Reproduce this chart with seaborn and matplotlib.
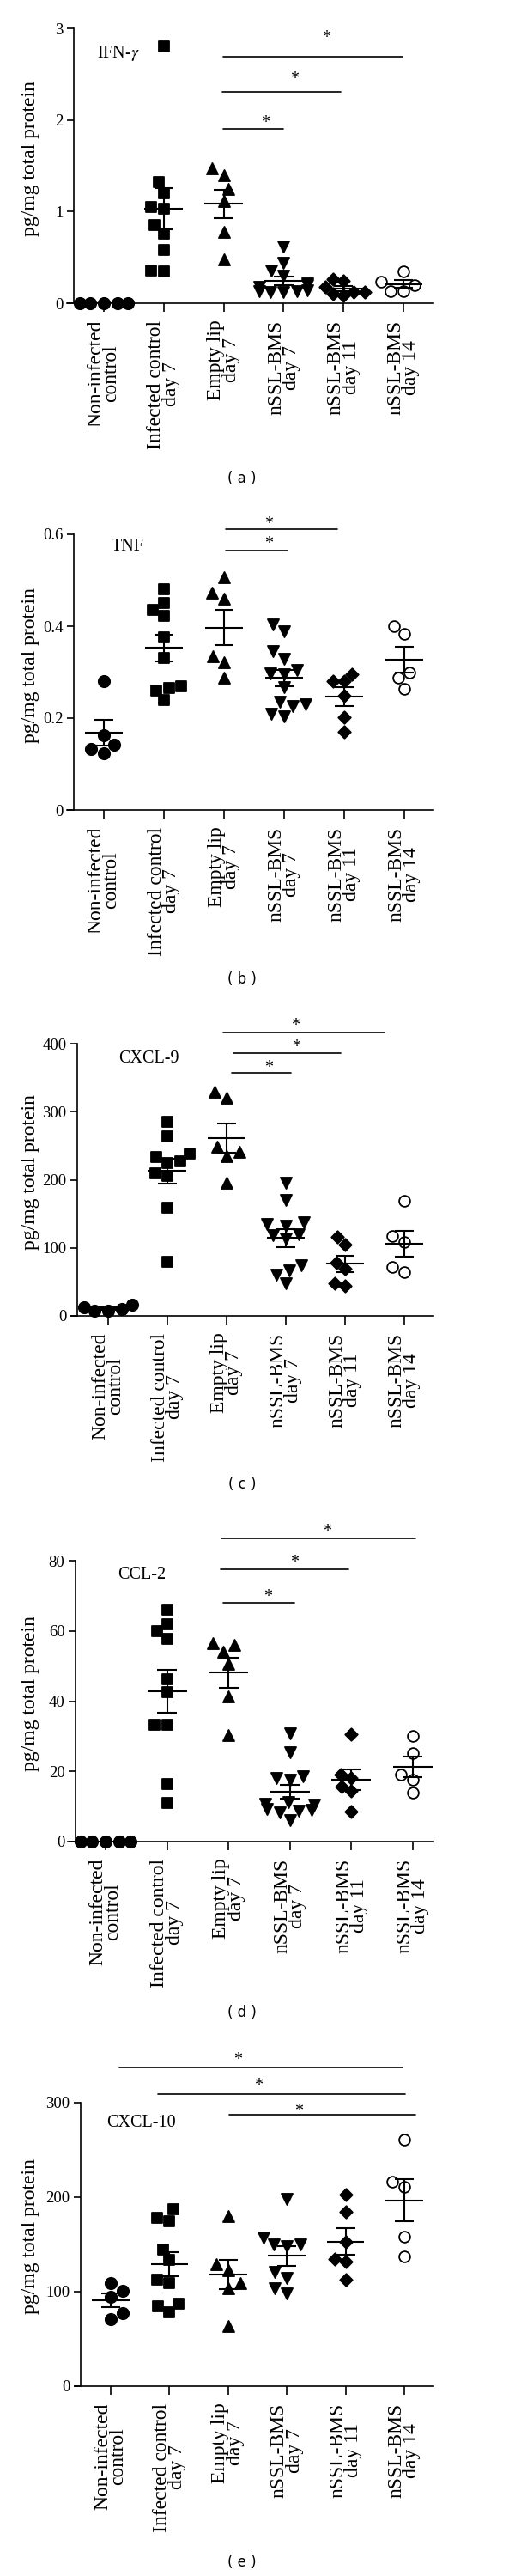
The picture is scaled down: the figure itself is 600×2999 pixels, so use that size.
import numpy as np
import pandas as pd
import matplotlib
matplotlib.use("Agg")
import matplotlib.pyplot as plt
import seaborn as sns

# style: plain black-on-white, Times-like text
sns.set_style("ticks", {"axes.edgecolor": "black", "xtick.color": "black",
                        "ytick.color": "black", "text.color": "black"})
plt.rcParams['font.family'] = ['Liberation Serif', 'DejaVu Serif']
plt.rcParams['mathtext.fontset'] = 'stix'

groups = ["Non-infected\ncontrol", "Infected control\nday 7", "Empty lip\nday 7",
          "nSSL-BMS\nday 7", "nSSL-BMS\nday 11", "nSSL-BMS\nday 14"]
keys = ["noninf", "inf", "empty", "d7", "d11", "d14"]
markers = ["o", "s", "^", "v", "D", "o"]
sizes = [9.6, 8.8, 9.4, 9.4, 7.4, 9.2]
fills = ["black", "black", "black", "black", "black", "white"]

# (a) IFN-gamma
ifn_noninf = [0, 0, 0, 0, 0]
ifn_inf = [2.80, 1.32, 1.20, 1.05, 1.03, 0.85, 0.76, 0.58, 0.35, 0.36]
ifn_empty = [1.47, 1.40, 1.25, 1.12, 0.78, 0.48]
ifn_d7 = [0.62, 0.44, 0.36, 0.30, 0.22, 0.20, 0.18, 0.14, 0.13, 0.13, 0.12, 0.12]
ifn_d11 = [0.26, 0.24, 0.18, 0.12, 0.12, 0.10, 0.08]
ifn_d14 = [0.35, 0.23, 0.20, 0.135, 0.135]

# (b) TNF
tnf_noninf = [0.28, 0.162, 0.142, 0.133, 0.123]
tnf_inf = [0.48, 0.45, 0.435, 0.422, 0.376, 0.331, 0.265, 0.269, 0.26, 0.239]
tnf_empty = [0.507, 0.472, 0.46, 0.335, 0.321, 0.288]
tnf_d7 = [0.404, 0.388, 0.345, 0.329, 0.304, 0.298, 0.295, 0.267, 0.235, 0.229, 0.226, 0.21, 0.204]
tnf_d11 = [0.296, 0.28, 0.28, 0.249, 0.201, 0.17]
tnf_d14 = [0.40, 0.384, 0.30, 0.288, 0.264]

# (c) CXCL-9
cxcl9_noninf = [10, 17, 8, 12, 8]
cxcl9_inf = [285, 264, 238, 227, 234, 225, 210, 206, 159, 80]
cxcl9_empty = [329, 320, 248, 241, 235, 196]
cxcl9_d7 = [196, 170, 137, 135, 133, 120, 118, 114, 74, 67, 61, 48]
cxcl9_d11 = [116, 105, 78, 69, 48, 44]
cxcl9_d14 = [169, 117, 109, 72, 64]

# (d) CCL-2
ccl2_noninf = [0, 0, 0, 0, 0]
ccl2_inf = [66, 62, 60, 57.8, 46.2, 42.6, 33.2, 33.2, 16.5, 11]
ccl2_empty = [56.4, 56, 54, 50.7, 41.3, 30.3]
ccl2_d7 = [30.8, 25.5, 18.5, 18, 17.7, 11.2, 10.8, 10.4, 9.2, 9, 8.8, 8.4, 6]
ccl2_d11 = [30.5, 19, 18, 15.7, 14.5, 8.5]
ccl2_d14 = [30.2, 25.3, 19, 17.7, 13.9]

# (e) CXCL-10
cxcl10_noninf = [109, 101, 95, 77, 71]
cxcl10_inf = [187, 178, 175, 144.5, 133.6, 112.8, 109.5, 87.7, 84.7, 78.6]
cxcl10_empty = [180, 129, 123, 109, 104, 63.5]
cxcl10_d7 = [198, 157, 150, 148, 150, 121, 115, 104, 98]
cxcl10_d11 = [202.6, 184.5, 152.7, 134.6, 131.5, 112.5]
cxcl10_d14 = [261, 216, 211, 158, 137]

# significance bars: (from, to, height, star x, star y)
ifn_bars = [(1.99, 4.99, 2.69, 3.71, 2.95), (1.98, 3.95, 2.31, 3.18, 2.50), (1.99, 2.99, 1.90, 2.69, 2.02)]
tnf_bars = [(2.03, 3.89, 0.611, 2.74, 0.632), (2.03, 3.06, 0.565, 2.74, 0.589)]
cxcl9_bars = [(1.94, 4.67, 416, 3.16, 433), (2.12, 3.93, 386, 3.17, 402), (2.09, 3.09, 357, 2.71, 372)]
ccl2_bars = [(1.89, 5.04, 86.3, 3.60, 89.7), (1.87, 3.95, 77.5, 3.07, 80.9), (1.91, 3.07, 68.0, 2.64, 71.1)]
cxcl10_bars = [(0.15, 4.97, 337, 2.16, 350), (0.80, 5.01, 309, 2.51, 323), (2.02, 5.19, 287, 3.2, 296)]

W, H = 600, 2999
fig = plt.figure(figsize=(W / 100, H / 100), dpi=100)


def draw_panel(values, title, title_pos, ylim, yticks, yticklabels, box, spine_px, t0, step,
               bars, letter, letter_y, ylabel_y):
    left, right, top, bottom = box
    ax = fig.add_axes([left / W, 1 - bottom / H, (right - left) / W, (bottom - top) / H])
    df = pd.DataFrame({"group": np.repeat(keys, [len(v) for v in values]),
                       "value": np.concatenate([np.asarray(v, float) for v in values])})
    for i, key in enumerate(keys):
        sns.swarmplot(data=df[df.group == key], x="group", y="value", order=keys,
                      marker=markers[i], size=sizes[i], color=fills[i],
                      edgecolor="black", linewidth=1.3, ax=ax, warn_thresh=1)
    for c in ax.collections:
        c.set_clip_on(False)

    # mean +/- SEM
    for i, v in enumerate(values):
        v = np.asarray(v, float)
        m = v.mean()
        se = v.std(ddof=1) / np.sqrt(len(v))
        kw = dict(color="black", lw=1.5, zorder=5, solid_capstyle="butt")
        ax.plot([i - 0.32, i + 0.32], [m, m], **kw)
        if se > 0:
            ax.plot([i - 0.16, i + 0.16], [m + se, m + se], **kw)
            ax.plot([i - 0.16, i + 0.16], [m - se, m - se], **kw)
            ax.plot([i, i], [m - se, m + se], **kw)

    ax.set_xlim((left - t0) / step, (right - t0) / step)
    ax.set_ylim(*ylim)
    ax.spines['left'].set_position(('data', (spine_px - t0) / step))
    for s in ['top', 'right']:
        ax.spines[s].set_visible(False)
    for s in ['left', 'bottom']:
        ax.spines[s].set_linewidth(1.2)
        ax.spines[s].set_color("black")

    ax.set_yticks(yticks, yticklabels, fontsize=13.5)
    ax.set_xticks(range(len(groups)), groups, rotation=90, fontsize=17, ha="center",
                  va="top", multialignment="center", linespacing=0.8)
    ax.tick_params(axis="y", length=6, width=1.2, pad=3)
    ax.tick_params(axis="x", length=7, width=1.2, pad=7)
    ax.set_xlabel("")
    ax.set_ylabel("")

    ax.text(title_pos[0], title_pos[1], title, transform=ax.transAxes, fontsize=14.5,
            ha="left", va="center")

    for x1, x2, y, sx, sy in bars:
        ax.plot([x1, x2], [y, y], color="black", lw=1.2, clip_on=False)
        ax.annotate("*", xy=(sx, sy), xytext=(0, -7.5), textcoords="offset points",
                    ha="center", va="baseline", fontsize=14.5, annotation_clip=False)

    fig.text(25 / W, 1 - ylabel_y / H, "pg/mg total protein", rotation=90,
             ha="left", va="center", fontsize=17)
    fig.text(282 / W, 1 - letter_y / H, "( %s )" % letter, ha="center", va="center",
             fontsize=12, family="DejaVu Sans")
    return ax


draw_panel([ifn_noninf, ifn_inf, ifn_empty, ifn_d7, ifn_d11, ifn_d14],
           "IFN-$\\gamma$", (0.082, 0.91), (0, 3), [0, 1, 2, 3], ["0", "1", "2", "3"],
           (78, 505, 33, 353), 86, 121, 69.8, ifn_bars, "a", 557, 185)

draw_panel([tnf_noninf, tnf_inf, tnf_empty, tnf_d7, tnf_d11, tnf_d14],
           "TNF", (0.12, 0.956), (0, 0.6), [0, 0.2, 0.4, 0.6], ["0", "0.2", "0.4", "0.6"],
           (78, 505, 622, 943), 86, 121, 70, tnf_bars, "b", 1140, 775)

draw_panel([cxcl9_noninf, cxcl9_inf, cxcl9_empty, cxcl9_d7, cxcl9_d11, cxcl9_d14],
           "CXCL-9", (0.13, 0.946), (0, 400), [0, 100, 200, 300, 400],
           ["0", "100", "200", "300", "400"],
           (83, 505, 1215, 1532), 90, 126, 69, cxcl9_bars, "c", 1728, 1365)

draw_panel([ccl2_noninf, ccl2_inf, ccl2_empty, ccl2_d7, ccl2_d11, ccl2_d14],
           "CCL-2", (0.136, 0.951), (0, 80), [0, 20, 40, 60, 80],
           ["0", "20", "40", "60", "80"],
           (79, 505, 1817, 2144), 88, 123, 71.6, ccl2_bars, "d", 2343, 1972)

draw_panel([cxcl10_noninf, cxcl10_inf, cxcl10_empty, cxcl10_d7, cxcl10_d11, cxcl10_d14],
           "CXCL-10", (0.089, 0.93), (0, 300), [0, 100, 200, 300],
           ["0", "100", "200", "300"],
           (87, 505, 2448, 2778), 94, 129, 68.4, cxcl10_bars, "e", 2983, 2604)

fig.savefig("out.png", dpi=100)
